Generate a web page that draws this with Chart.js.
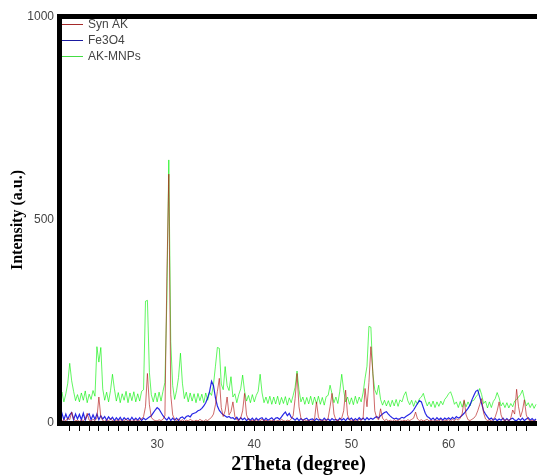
<!DOCTYPE html>
<html>
<head>
<meta charset="utf-8">
<script src="https://cdn.jsdelivr.net/npm/chart.js@4/dist/chart.umd.min.js"></script>
<style>
html,body{margin:0;padding:0;background:#fff;}
#wrap{width:537px;height:475px;position:relative;}
</style>
</head>
<body>
<div id="wrap"><canvas id="c" width="537" height="475"></canvas></div>
<script>
// 2Theta grid: 20.0 to 69.0 deg, one reading every 0.2 deg
const THETA_START = 20.0;
const THETA_STEP = 0.2;
const X_MIN = 20;
const X_MAX = 69.1;
const Y_TICKS = [0, 500, 1000];
const X_LABELS = [30, 40, 50, 60];
const seriesNames = ["Syn AK", "Fe3O4", "AK-MNPs"];

// Syn AK
const synAK = [
  6, 4, 9, 5, 12, 8, 27, 10, 5, 7,          // 20.0-21.8
  4, 8, 6, 10, 24, 7, 5, 9, 6, 12,          // 22.0-23.8
  64, 15, 6, 4, 8, 5, 10, 6, 4, 7,          // 24.0-25.8
  5, 8, 4, 6, 9, 5, 7, 4, 6, 8,             // 26.0-27.8
  5, 7, 10, 16, 40, 122, 45, 14, 8, 6,      // 28.0-29.8
  5, 8, 6, 9, 18, 360, 613, 70, 20, 9,      // 30.0-31.8
  6, 10, 5, 8, 4, 7, 5, 9, 6, 4,            // 32.0-33.8
  7, 5, 9, 6, 4, 8, 6, 10, 14, 22,          // 34.0-35.8
  45, 78, 110, 38, 16, 30, 64, 20, 28, 52,  // 36.0-37.8
  16, 8, 6, 12, 30, 73, 20, 8, 5, 7,        // 38.0-39.8
  5, 8, 4, 6, 9, 5, 7, 4, 6, 5,             // 40.0-41.8
  8, 4, 6, 5, 9, 6, 4, 7, 5, 10,            // 42.0-43.8
  18, 60, 122, 40, 12, 6, 8, 5, 7, 4,       // 44.0-45.8
  6, 9, 52, 15, 6, 5, 8, 4, 12, 40,         // 46.0-47.8
  73, 22, 7, 5, 9, 12, 30, 81, 20, 8,       // 48.0-49.8
  5, 8, 6, 4, 9, 6, 12, 85, 40, 100,        // 50.0-51.8
  188, 126, 30, 12, 8, 35, 12, 6, 9, 5,     // 52.0-53.8
  7, 4, 8, 5, 6, 9, 4, 7, 5, 8,             // 54.0-55.8
  6, 9, 12, 27, 10, 6, 8, 5, 7, 9,          // 56.0-57.8
  5, 7, 4, 8, 6, 5, 9, 4, 7, 6,             // 58.0-59.8
  8, 5, 9, 6, 10, 7, 12, 23, 57, 20,        // 60.0-61.8
  8, 6, 9, 12, 18, 30, 45, 60, 25, 10,      // 62.0-63.8
  6, 8, 5, 9, 15, 30, 52, 20, 8, 6,         // 64.0-65.8
  9, 5, 12, 32, 22, 83, 40, 15, 30, 57,     // 66.0-67.8
  20, 8, 5, 7, 4, 6                         // 68.0-69.0
];

// Fe3O4
const fe3o4 = [
  10, 24, 8, 22, 9, 20, 26, 8, 22, 10,      // 20.0-21.8
  21, 8, 24, 7, 19, 23, 8, 20, 9, 22,       // 22.0-23.8
  8, 18, 10, 16, 7, 15, 9, 14, 6, 13,       // 24.0-25.8
  7, 14, 6, 13, 8, 12, 6, 14, 7, 12,        // 26.0-27.8
  7, 13, 6, 12, 8, 11, 15, 18, 25, 32,      // 28.0-29.8
  38, 34, 26, 18, 12, 7, 14, 6, 12, 7,      // 30.0-31.8
  12, 6, 13, 15, 10, 16, 18, 15, 22, 24,    // 32.0-33.8
  26, 30, 32, 36, 42, 50, 62, 78, 103, 92,  // 34.0-35.8
  62, 42, 31, 25, 20, 17, 14, 16, 12, 13,   // 36.0-37.8
  9, 14, 7, 13, 8, 12, 6, 11, 7, 12,        // 38.0-39.8
  6, 12, 7, 11, 13, 6, 12, 7, 10, 13,       // 40.0-41.8
  7, 12, 13, 9, 15, 22, 27, 18, 24, 14,     // 42.0-43.8
  11, 7, 12, 6, 11, 7, 10, 12, 6, 9,        // 44.0-45.8
  10, 6, 11, 7, 9, 6, 12, 7, 10, 6,         // 46.0-47.8
  11, 7, 9, 6, 12, 7, 11, 6, 12, 8,         // 48.0-49.8
  12, 6, 11, 7, 13, 8, 12, 7, 13, 8,        // 50.0-51.8
  12, 9, 13, 16, 12, 18, 22, 26, 28, 22,    // 52.0-53.8
  17, 13, 10, 12, 9, 11, 14, 12, 16, 19,    // 54.0-55.8
  22, 26, 32, 40, 48, 55, 52, 38, 24, 16,   // 56.0-57.8
  13, 8, 12, 7, 13, 8, 12, 7, 12, 9,        // 58.0-59.8
  13, 9, 14, 10, 16, 12, 15, 19, 24, 30,    // 60.0-61.8
  36, 44, 57, 68, 78, 81, 65, 48, 30, 22,   // 62.0-63.8
  15, 9, 12, 7, 11, 6, 10, 7, 12, 6,        // 64.0-65.8
  11, 6, 10, 12, 7, 6, 11, 7, 12, 6,        // 66.0-67.8
  10, 13, 7, 11, 6, 10                      // 68.0-69.0
];

// AK-MNPs
const akMNPs = [
  58, 76, 52, 72, 98, 147, 104, 78, 55, 70,     // 20.0-21.8
  52, 74, 56, 79, 50, 71, 58, 80, 66, 188,      // 22.0-23.8
  150, 186, 84, 56, 76, 52, 80, 120, 84, 54,    // 24.0-25.8
  75, 50, 72, 56, 78, 50, 74, 55, 77, 52,       // 26.0-27.8
  72, 54, 78, 82, 300, 302, 125, 70, 52, 74,    // 28.0-29.8
  52, 76, 54, 78, 100, 302, 648, 200, 92, 58,   // 30.0-31.8
  80, 112, 172, 98, 60, 76, 52, 74, 54, 72,     // 32.0-33.8
  50, 73, 55, 71, 50, 74, 56, 76, 68, 95,       // 34.0-35.8
  140, 186, 184, 96, 82, 139, 92, 80, 114, 64,  // 36.0-37.8
  72, 50, 70, 84, 118, 78, 54, 68, 50, 70,      // 38.0-39.8
  52, 68, 78, 120, 74, 50, 64, 48, 66, 46,      // 40.0-41.8
  64, 47, 66, 45, 63, 48, 65, 44, 62, 50,       // 42.0-43.8
  68, 88, 128, 82, 52, 64, 46, 63, 47, 66,      // 44.0-45.8
  45, 64, 47, 66, 46, 63, 44, 65, 68, 93,       // 46.0-47.8
  72, 50, 64, 48, 78, 120, 80, 52, 64, 46,      // 48.0-49.8
  62, 45, 66, 48, 64, 52, 74, 110, 140, 238,    // 50.0-51.8
  236, 122, 82, 70, 93, 58, 44, 56, 42, 55,     // 52.0-53.8
  40, 56, 42, 58, 41, 57, 52, 68, 77, 55,       // 54.0-55.8
  45, 56, 41, 55, 46, 60, 64, 73, 56, 42,       // 56.0-57.8
  52, 40, 54, 38, 52, 41, 54, 45, 58, 64,       // 58.0-59.8
  72, 77, 64, 46, 52, 38, 53, 39, 54, 40,       // 60.0-61.8
  52, 42, 54, 56, 64, 70, 85, 70, 48, 54,       // 62.0-63.8
  37, 52, 38, 53, 60, 75, 62, 42, 50, 38,       // 64.0-65.8
  50, 37, 48, 40, 54, 58, 64, 70, 81, 60,       // 66.0-67.8
  42, 50, 38, 48, 36, 46                        // 68.0-69.0
];

const seriesValues = [synAK, fe3o4, akMNPs];
const lineColors = ["rgba(180,25,25,0.65)", "rgba(0,0,225,0.85)", "rgba(0,240,0,0.62)"];
const legendColors = ["#a52a2a", "#1a1aa0", "#44dd44"];

function toPoints(vals) {
  return vals.map((v, i) => ({ x: +(THETA_START + i * THETA_STEP).toFixed(2), y: v }));
}

const datasets = seriesNames.map((name, k) => ({
  label: name,
  data: toPoints(seriesValues[k]),
  borderColor: lineColors[k],
  backgroundColor: lineColors[k],
  borderWidth: k === 1 ? 1.2 : 1,
  pointRadius: 0,
  tension: 0,
  fill: false
}));

const frame = {
  id: 'frame',
  afterDatasetsDraw(chart) {
    const ctx = chart.ctx;
    const a = chart.chartArea;
    ctx.save();
    ctx.fillStyle = '#000';
    ctx.fillRect(a.left - 3, a.top - 3, 5, a.bottom - a.top + 6);
    ctx.fillRect(a.left - 3, a.top - 3, a.right - a.left + 3, 5);
    ctx.fillRect(a.left - 3, a.bottom - 2, a.right - a.left + 3, 5);
    // legend
    ctx.font = '12px "Liberation Sans", Arial, sans-serif';
    ctx.textBaseline = 'middle';
    seriesNames.forEach((name, k) => {
      const y = 24 + k * 16;
      ctx.strokeStyle = legendColors[k];
      ctx.lineWidth = 1;
      ctx.beginPath();
      ctx.moveTo(a.left + 2, y + 0.5);
      ctx.lineTo(a.left + 23, y + 0.5);
      ctx.stroke();
      ctx.fillStyle = '#444';
      ctx.fillText(name, a.left + 28, y + 1);
    });
    ctx.restore();
  }
};

new Chart(document.getElementById('c'), {
  type: 'line',
  data: { datasets },
  options: {
    responsive: false,
    animation: false,
    devicePixelRatio: 1,
    layout: { padding: { top: 17, right: 0, left: 0, bottom: 0 } },
    plugins: { legend: { display: false }, tooltip: { enabled: false } },
    scales: {
      x: {
        type: 'linear',
        min: X_MIN,
        max: X_MAX,
        afterFit: s => { s.height = 52; },
        afterBuildTicks: s => {
          s.ticks = s.ticks.filter(t => Math.abs(t.value - Math.round(t.value)) < 1e-6 && t.value > X_MIN);
        },
        border: { display: false },
        grid: { drawOnChartArea: false, drawTicks: true, tickLength: 8, color: '#000', lineWidth: 1 },
        ticks: {
          stepSize: 1,
          autoSkip: false,
          maxTicksLimit: 200,
          maxRotation: 0,
          padding: 6,
          color: '#444',
          font: { family: '"Liberation Sans", Arial, sans-serif', size: 12 },
          callback: v => (X_LABELS.includes(Math.round(v)) && Math.abs(v - Math.round(v)) < 1e-6) ? String(Math.round(v)) : ''
        },
        title: {
          display: true,
          text: '2Theta (degree)',
          color: '#000',
          padding: { top: 0, bottom: 0 },
          font: { family: '"Liberation Serif", "Times New Roman", serif', size: 20, weight: 'bold', lineHeight: 1 }
        }
      },
      y: {
        type: 'linear',
        min: 0,
        max: 1000,
        afterFit: s => { s.width = 60; },
        afterBuildTicks: s => { s.ticks = Y_TICKS.map(v => ({ value: v })); },
        border: { display: false },
        grid: { display: false, drawTicks: false },
        ticks: {
          padding: 6,
          color: '#444',
          font: { family: '"Liberation Sans", Arial, sans-serif', size: 12 },
          callback: v => String(v)
        },
        title: {
          display: true,
          text: 'Intensity (a.u.)',
          color: '#000',
          padding: { top: 10, bottom: 0 },
          font: { family: '"Liberation Serif", "Times New Roman", serif', size: 16, weight: 'bold', lineHeight: 1 }
        }
      }
    }
  },
  plugins: [frame]
});
</script>
</body>
</html>
